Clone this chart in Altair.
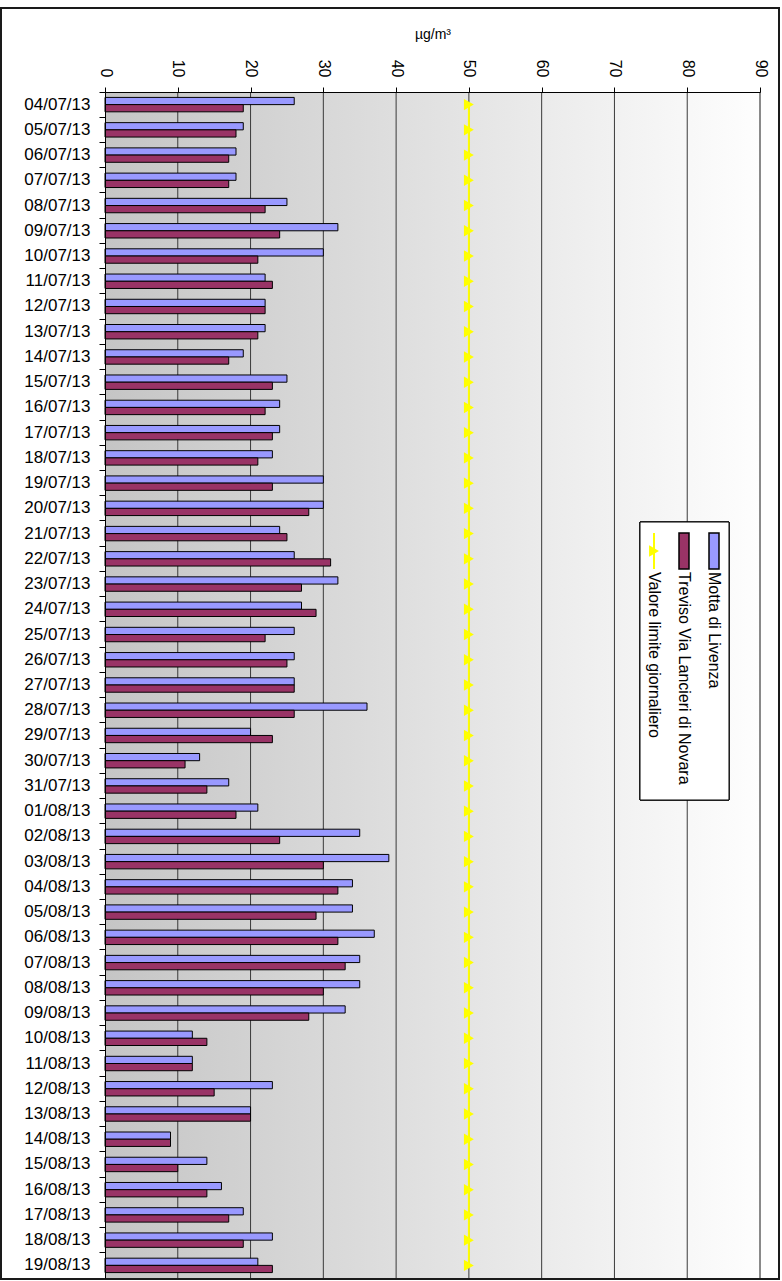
import altair as alt
import pandas as pd

# Daily PM10 concentrations (µg/m³), 4 July – 19 August 2013
DATES = [
    "04/07/13", "05/07/13", "06/07/13", "07/07/13", "08/07/13", "09/07/13", "10/07/13",
    "11/07/13", "12/07/13", "13/07/13", "14/07/13", "15/07/13", "16/07/13", "17/07/13",
    "18/07/13", "19/07/13", "20/07/13", "21/07/13", "22/07/13", "23/07/13", "24/07/13",
    "25/07/13", "26/07/13", "27/07/13", "28/07/13", "29/07/13", "30/07/13", "31/07/13",
    "01/08/13", "02/08/13", "03/08/13", "04/08/13", "05/08/13", "06/08/13", "07/08/13",
    "08/08/13", "09/08/13", "10/08/13", "11/08/13", "12/08/13", "13/08/13", "14/08/13",
    "15/08/13", "16/08/13", "17/08/13", "18/08/13", "19/08/13",
]
MOTTA = [26, 19, 18, 18, 25, 32, 30, 22, 22, 22, 19, 25, 24, 24, 23, 30, 30, 24, 26, 32,
         27, 26, 26, 26, 36, 20, 13, 17, 21, 35, 39, 34, 34, 37, 35, 35, 33, 12, 12, 23,
         20, 9, 14, 16, 19, 23, 21]
TREVISO = [19, 18, 17, 17, 22, 24, 21, 23, 22, 21, 17, 23, 22, 23, 21, 23, 28, 25, 31, 27,
           29, 22, 25, 26, 26, 23, 11, 14, 18, 24, 30, 32, 29, 32, 33, 30, 28, 14, 12, 15,
           20, 9, 10, 14, 17, 19, 23]
SERIES = ["Motta di Livenza", "Treviso Via Lancieri di Novara"]
LIMIT_NAME = "Valore limite giornaliero"
LIMIT = 50
X_TICKS = [0, 10, 20, 30, 40, 50, 60, 70, 80, 90]

# layout (pixels)
W, H = 655, 1186
PAD = {"left": 105, "top": 92, "right": 22, "bottom": 3}
BLUE, PURPLE, YELLOW = "#9999FF", "#993366", "#FFFF00"
FONT = "Liberation Sans"
MARKER_SIZE = 130

bars_df = pd.DataFrame({
    "data": DATES * 2,
    "serie": [SERIES[0]] * len(DATES) + [SERIES[1]] * len(DATES),
    "valore": MOTTA + TREVISO,
})
limit_df = pd.DataFrame({"data": DATES, "valore": [LIMIT] * len(DATES)})
grid_df = pd.DataFrame({"v": X_TICKS[1:]})

x_scale = alt.Scale(domain=[X_TICKS[0], X_TICKS[-1]], nice=False)
x_axis = alt.Axis(
    orient="top", values=X_TICKS, grid=False, zindex=1,
    labelAngle=90, labelAlign="right", labelBaseline="middle",
    labelFontSize=16, labelPadding=10, labelColor="black",
    tickSize=5, tickColor="black", domainColor="black",
    title="µg/m³", titleFontSize=14, titleFontWeight="normal", titleColor="black",
    titleY=-58, titleBaseline="middle",
)
y_axis = alt.Axis(
    title=None, bandPosition=0, zindex=1,
    labelFontSize=17, labelPadding=9, labelColor="black",
    tickSize=6, tickColor="black", domainColor="black",
)
y_scale = alt.Scale(paddingInner=0, paddingOuter=0)

def x_enc(field):
    return alt.X(field, scale=x_scale, axis=x_axis)

def y_enc():
    return alt.Y("data:N", sort=DATES, scale=y_scale, axis=y_axis)

# plot background: horizontal grey-to-white gradient
background = alt.Chart(grid_df).mark_rect(
    fill=alt.Gradient(
        gradient="linear", x1=0, y1=0, x2=1, y2=0,
        stops=[alt.GradientStop(color="#c5c5c5", offset=0),
               alt.GradientStop(color="#fefefe", offset=1)],
    )
).encode(x=alt.value(0), x2=alt.value(W), y=alt.value(0), y2=alt.value(H))

grid = alt.Chart(grid_df).mark_rule().encode(
    x=x_enc("v:Q"),
    y=alt.value(0), y2=alt.value(H),
    color=alt.condition(alt.datum.v == X_TICKS[-1], alt.value("#8a8a8a"), alt.value("#3a3a3a")),
    strokeWidth=alt.condition(alt.datum.v == X_TICKS[-1], alt.value(2), alt.value(1)),
)

bars = alt.Chart(bars_df).mark_bar(stroke="black", strokeWidth=1).encode(
    x=x_enc("valore:Q"),
    y=y_enc(),
    yOffset=alt.YOffset("serie:N", sort=SERIES,
                        scale=alt.Scale(paddingInner=0, paddingOuter=0.75)),
    color=alt.Color("serie:N", scale=alt.Scale(domain=SERIES, range=[BLUE, PURPLE]), legend=None),
)

limit_line = alt.Chart(limit_df).mark_line(
    color=YELLOW, strokeWidth=2,
    point=alt.OverlayMarkDef(shape="triangle-right", filled=True, color=YELLOW,
                             size=MARKER_SIZE, opacity=1),
).encode(x=x_enc("valore:Q"), y=y_enc())

# hand-built legend, laid out sideways like the rest of the chart
LEG_X0, LEG_X1, LEG_Y0, LEG_Y1 = 535, 624, 430, 708
SYM_Y0, SYM_Y1, TXT_Y = 441, 477, 480
ENTRY_X = [609, 579, 549]
leg_df = pd.DataFrame({"nome": SERIES + [LIMIT_NAME]})

legend_layers = [
    alt.Chart(leg_df).mark_rect(fill="white", stroke="black", strokeWidth=1).encode(
        x=alt.value(LEG_X0), x2=alt.value(LEG_X1), y=alt.value(LEG_Y0), y2=alt.value(LEG_Y1)
    )
]
for i, name in enumerate(SERIES):
    cx = ENTRY_X[i]
    legend_layers.append(
        alt.Chart(leg_df).transform_filter(alt.datum.nome == name)
        .mark_rect(fill=[BLUE, PURPLE][i], stroke="black", strokeWidth=1.5)
        .encode(x=alt.value(cx - 5), x2=alt.value(cx + 5),
                y=alt.value(SYM_Y0), y2=alt.value(SYM_Y1))
    )
cx = ENTRY_X[2]
legend_layers.append(
    alt.Chart(leg_df).transform_filter(alt.datum.nome == LIMIT_NAME)
    .mark_rule(color=YELLOW, strokeWidth=2)
    .encode(x=alt.value(cx), y=alt.value(SYM_Y0), y2=alt.value(SYM_Y1))
)
legend_layers.append(
    alt.Chart(leg_df).transform_filter(alt.datum.nome == LIMIT_NAME)
    .mark_point(shape="triangle-right", filled=True, color=YELLOW, size=MARKER_SIZE, opacity=1)
    .encode(x=alt.value(cx), y=alt.value((SYM_Y0 + SYM_Y1) / 2))
)
for i, name in enumerate(SERIES + [LIMIT_NAME]):
    legend_layers.append(
        alt.Chart(leg_df).transform_filter(alt.datum.nome == name)
        .mark_text(angle=90, align="left", baseline="middle", fontSize=16,
                   font=FONT, color="black")
        .encode(x=alt.value(ENTRY_X[i]), y=alt.value(TXT_Y), text="nome:N")
    )

# outer frame around the whole figure
frame = alt.Chart(grid_df).mark_rect(fillOpacity=0, stroke="#1a1a1a", strokeWidth=2).encode(
    x=alt.value(-104), x2=alt.value(W + 19), y=alt.value(-84), y2=alt.value(H + 1)
)

chart = alt.layer(
    background, grid, bars, limit_line, *legend_layers, frame
).properties(
    width=W, height=H,
    padding=PAD,
    autosize=alt.AutoSizeParams(type="none"),
    background="white",
).configure_view(
    stroke="transparent"
).configure(
    font=FONT
)

chart.save("out.html", embed_options={"renderer": "svg", "actions": False})
